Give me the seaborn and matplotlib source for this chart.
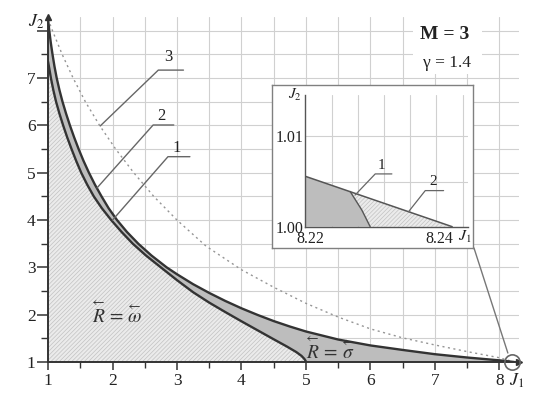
import matplotlib.pyplot as plt
import matplotlib.ticker as mticker
import seaborn as sns
import numpy as np
from matplotlib.patches import Rectangle

# curve 1: lower boundary (R = omega region)
c1_j1 = [1.000, 1.020, 1.045, 1.082, 1.125, 1.177, 1.235, 1.297, 1.365, 1.437, 1.515,
         1.607, 1.710, 1.835, 1.980, 2.140, 2.315, 2.520, 2.750, 3.000, 3.250, 3.500,
         3.750, 4.000, 4.250, 4.500, 4.700, 4.850, 4.930, 4.975, 4.994, 5.000]
c1_j2 = [7.35, 7.20, 7.00, 6.75, 6.50, 6.25, 6.00, 5.75, 5.50, 5.25, 5.00,
         4.75, 4.50, 4.25, 4.00, 3.75, 3.50, 3.25, 3.00, 2.73, 2.475, 2.255,
         2.055, 1.860, 1.670, 1.480, 1.330, 1.210, 1.130, 1.065, 1.025, 1.000]

# curve 2: outer boundary
c2_j1 = [1.000, 1.020, 1.043, 1.070, 1.100, 1.135, 1.177, 1.225, 1.280, 1.340, 1.405,
         1.475, 1.551, 1.635, 1.727, 1.830, 1.940, 2.070, 2.223, 2.400, 2.605, 2.840,
         3.000, 3.250, 3.500, 3.750, 4.000, 4.250, 4.500, 4.750, 5.000, 5.500, 6.000,
         6.500, 7.000, 7.500, 8.000, 8.230]
c2_j2 = [8.25, 8.00, 7.75, 7.50, 7.25, 7.00, 6.75, 6.50, 6.25, 6.00, 5.75,
         5.50, 5.25, 5.00, 4.75, 4.50, 4.25, 4.00, 3.75, 3.50, 3.25, 3.00,
         2.855, 2.645, 2.460, 2.290, 2.135, 1.995, 1.865, 1.750, 1.645, 1.475, 1.350,
         1.255, 1.165, 1.095, 1.035, 1.000]

# curve 3: dotted
c3_j1 = [1.00, 1.07, 1.22, 1.39, 1.58, 1.80, 2.05, 2.33, 2.64, 3.00, 3.45, 4.00, 4.50,
         5.00, 5.50, 6.00, 6.50, 7.00, 7.50, 8.00, 8.23]
c3_j2 = [8.25, 8.00, 7.50, 7.00, 6.50, 6.00, 5.50, 5.00, 4.50, 4.00, 3.45, 2.95, 2.58,
         2.24, 1.95, 1.70, 1.51, 1.36, 1.22, 1.09, 1.00]

# inset (zoom near J1 = 8.23, J2 = 1)
in_c2_j1 = [8.2192, 8.2420]
in_c2_j2 = [1.0056, 1.0000]
in_c1_j1 = [8.2262, 8.2280, 8.2293]
in_c1_j2 = [1.0039, 1.00185, 1.0000]

x_ticks = [1, 2, 3, 4, 5, 6, 7, 8]
y_ticks = [1, 2, 3, 4, 5, 6, 7, 8]
y_labels = ['1', '2', '3', '4', '5', '6', '7', '']
in_x_ticks = [8.22, 8.24]
in_y_ticks = [1.00, 1.01]

sns.set_style("ticks")
plt.rcParams['font.family'] = ['Liberation Serif', 'DejaVu Serif']
plt.rcParams['mathtext.fontset'] = 'stix'
plt.rcParams['hatch.linewidth'] = 0.5

dark = '#333333'
band = '#bdbdbd'
light = '#ebebeb'
hatch_c = '#c2c2c2'
grid_c = '#d0d0d0'

fig = plt.figure(figsize=(5.5, 4.03), dpi=100)
ax = fig.add_axes([0.0873, 0.1017, 0.856, 0.857])

# fills
ax.fill(c1_j1 + [1.0], c1_j2 + [1.0], facecolor=light, edgecolor=hatch_c,
        hatch='////////', linewidth=0, zorder=2)
ax.fill(c2_j1 + c1_j1[::-1], c2_j2 + c1_j2[::-1], facecolor=band,
        linewidth=0, zorder=2)

sns.lineplot(x=c3_j1, y=c3_j2, sort=False, estimator=None, ax=ax, color='#959595',
             linewidth=1.0, linestyle=(0, (1.5, 2.5)), zorder=3)
sns.lineplot(x=c1_j1, y=c1_j2, sort=False, estimator=None, ax=ax, color=dark,
             linewidth=1.7, zorder=4)
sns.lineplot(x=c2_j1, y=c2_j2, sort=False, estimator=None, ax=ax, color=dark,
             linewidth=1.7, zorder=4)

ax.set_xlim(1, 8.3)
ax.set_ylim(1, 8.3)
ax.set_xticks(x_ticks)
ax.set_yticks(y_ticks)
ax.set_yticklabels(y_labels)
ax.xaxis.set_minor_locator(mticker.MultipleLocator(0.5))
ax.yaxis.set_minor_locator(mticker.MultipleLocator(0.5))
ax.grid(which='both', color=grid_c, linewidth=0.8)
ax.set_axisbelow(True)
for s in ['top', 'right']:
    ax.spines[s].set_visible(False)
for s in ['left', 'bottom']:
    ax.spines[s].set_color(dark)
    ax.spines[s].set_linewidth(1.4)
    ax.spines[s].set_zorder(5)
ax.tick_params(axis='x', which='major', direction='out', length=6, width=1.1,
               color=dark, labelsize=12.5, pad=2, labelcolor='#222222')
ax.tick_params(axis='x', which='minor', direction='out', length=4, width=1, color=dark)
ax.tick_params(axis='y', which='major', direction='out', length=8, width=1.1,
               color=dark, labelsize=12.5, pad=1, labelcolor='#222222')
ax.tick_params(axis='y', which='minor', direction='out', length=5, width=1, color=dark)
ax.plot([1], [0], marker='>', ms=4, color=dark, transform=ax.transAxes, clip_on=False, zorder=6)
ax.plot([0], [1], marker='^', ms=4, color=dark, transform=ax.transAxes, clip_on=False, zorder=6)

ax.text(0.81, 8.19, r'$J_2$', fontsize=13, ha='center', va='center', color='#222222')
ax.text(8.27, 0.6, r'$J_1$', fontsize=13, ha='center', va='center', color='#222222',
        clip_on=False)

# parameter box
ax.add_patch(Rectangle((6.66, 7.09), 1.07, 1.21, facecolor='white', edgecolor='none', zorder=2))
ax.text(7.15, 7.93, 'M = 3', fontsize=14, fontweight='bold', ha='center', va='center',
        color='#222222', zorder=3)
ax.text(7.18, 7.33, 'γ = 1.4', fontsize=12.5, ha='center', va='center',
        color='#222222', zorder=3)

# region labels
ax.text(2.05, 2.03, r'$\overset{\leftarrow}{R}=\overset{\leftarrow}{\omega}$', fontsize=14,
        ha='center', va='center', color='#333333', zorder=5)
ax.text(5.37, 1.27, r'$\overset{\leftarrow}{R}=\overset{\leftarrow}{\sigma}$', fontsize=14,
        ha='center', va='center', color='#333333', zorder=5)

# leader lines for curve numbers
lead = dict(color='#666666', linewidth=1.0, zorder=5)
ax.plot([1.81, 2.71, 3.10], [5.99, 7.17, 7.17], **lead)
ax.text(2.86, 7.45, '3', fontsize=12, ha='center', va='center', color='#222222')
ax.plot([1.76, 2.63, 2.95], [4.68, 6.01, 6.01], **lead)
ax.text(2.76, 6.19, '2', fontsize=12, ha='center', va='center', color='#222222')
ax.plot([2.00, 2.86, 3.20], [4.00, 5.34, 5.34], **lead)
ax.text(3.00, 5.52, '1', fontsize=12, ha='center', va='center', color='#222222')

# circle at the corner point and connector to inset
ax.plot([8.19], [1.0], marker='o', ms=11, mfc='none', mec='#666666', mew=1.2,
        clip_on=False, zorder=6)
ax.plot([7.605, 8.13], [3.41, 1.19], color='#777777', linewidth=1.0, zorder=6)

# inset frame
frame = fig.add_axes([0.494, 0.3839, 0.3666, 0.4051])
frame.set_xticks([])
frame.set_yticks([])
frame.set_facecolor('white')
for s in frame.spines.values():
    s.set_color('#808080')
    s.set_linewidth(1.0)

ax_in = fig.add_axes([0.5545, 0.4375, 0.297, 0.3268])
ax_in.set_facecolor('none')
ax_in.fill([in_c2_j1[0]] + in_c1_j1 + [in_c2_j1[0]], [in_c2_j2[0]] + in_c1_j2 + [1.0],
           facecolor=band, linewidth=0, zorder=2)
ax_in.fill(in_c1_j1 + [in_c2_j1[1]], in_c1_j2 + [in_c2_j2[1]], facecolor=light,
           edgecolor=hatch_c, hatch='////////', linewidth=0, zorder=2)
sns.lineplot(x=in_c2_j1, y=in_c2_j2, sort=False, estimator=None, ax=ax_in,
             color='#555555', linewidth=1.1, zorder=3)
sns.lineplot(x=in_c1_j1, y=in_c1_j2, sort=False, estimator=None, ax=ax_in,
             color='#555555', linewidth=1.0, zorder=3)
ax_in.set_xlim(8.2192, 8.2445)
ax_in.set_ylim(1.0, 1.0146)
ax_in.set_xticks(in_x_ticks)
ax_in.set_xticklabels(['8.22', '8.24'])
ax_in.set_yticks(in_y_ticks)
ax_in.set_yticklabels(['1.00', '1.01'])
for gx in np.arange(8.2234, 8.2445, 0.00404):
    ax_in.axvline(gx, color=grid_c, linewidth=0.8, zorder=1)
for gy in [1.005, 1.01]:
    ax_in.axhline(gy, color=grid_c, linewidth=0.8, zorder=1)
for s in ['top', 'right']:
    ax_in.spines[s].set_visible(False)
for s in ['left', 'bottom']:
    ax_in.spines[s].set_color('#555555')
    ax_in.spines[s].set_linewidth(1.0)
ax_in.tick_params(axis='x', length=0, labelsize=11.5, pad=3, labelcolor='#222222')
ax_in.tick_params(axis='y', length=0, labelsize=11.5, pad=1, labelcolor='#222222')
ax_in.text(-0.06, 1.0, r'$J_2$', fontsize=11, ha='center', va='center',
           transform=ax_in.transAxes, color='#222222')
ax_in.text(8.2439, 0.99887, r'$J_1$', fontsize=11.5, ha='center', va='center',
           clip_on=False, color='#222222')
lead_in = dict(color='#666666', linewidth=0.9, zorder=4)
ax_in.plot([8.22698, 8.23008, 8.23266], [1.00352, 1.00585, 1.00585], **lead_in)
ax_in.text(8.2311, 1.00675, '1', fontsize=11, ha='center', va='center', color='#222222')
ax_in.plot([8.23525, 8.23783, 8.24067], [1.00167, 1.0040, 1.0040], **lead_in)
ax_in.text(8.2391, 1.0050, '2', fontsize=11, ha='center', va='center', color='#222222')

fig.savefig('out.png', dpi=100)
